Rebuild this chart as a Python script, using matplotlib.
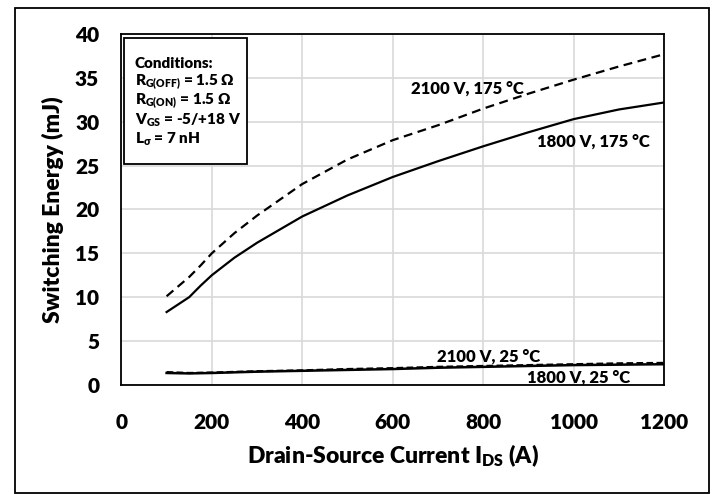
import matplotlib
matplotlib.use("Agg")
from matplotlib import pyplot as plt
from matplotlib.patches import Rectangle

# currents (A) and switching energies (mJ)
current_hot = [100, 150, 175, 200, 250, 300, 400, 500, 600, 700, 800, 900, 1000, 1100, 1200]
e_1800_175 = [8.3, 10.0, 11.3, 12.5, 14.5, 16.2, 19.2, 21.6, 23.7, 25.5, 27.2, 28.8, 30.3, 31.4, 32.2]
e_2100_175 = [10.1, 12.3, 13.6, 15.0, 17.3, 19.3, 22.9, 25.7, 27.9, 29.6, 31.5, 33.2, 34.8, 36.3, 37.7]

current_cold = [100, 150, 200, 300, 400, 500, 600, 700, 800, 900, 1000, 1100, 1200]
e_1800_25 = [1.35, 1.3, 1.35, 1.5, 1.6, 1.7, 1.8, 1.95, 2.05, 2.15, 2.25, 2.3, 2.35]
e_2100_25 = [1.45, 1.35, 1.4, 1.55, 1.65, 1.8, 1.9, 2.05, 2.15, 2.25, 2.35, 2.45, 2.5]

x_ticks = [0, 200, 400, 600, 800, 1000, 1200]
y_ticks = [0, 5, 10, 15, 20, 25, 30, 35, 40]

conditions = [
    "Conditions:",
    r"R$_{\mathrm{G(OFF)}}$ = 1.5 Ω",
    r"R$_{\mathrm{G(ON)}}$ = 1.5 Ω",
    r"V$_{\mathrm{GS}}$ = -5/+18 V",
    r"L$_{\mathrm{σ}}$ = 7 nH",
]

W = 'heavy'
plt.rcParams['font.family'] = ['Lato', 'DejaVu Sans']
plt.rcParams['font.weight'] = W
plt.rcParams['axes.labelweight'] = W
plt.rcParams['mathtext.fontset'] = 'custom'
plt.rcParams['mathtext.rm'] = 'Lato:heavy'
plt.rcParams['mathtext.it'] = 'Lato:heavy'
plt.rcParams['mathtext.bf'] = 'Lato:heavy'

fig = plt.figure(figsize=(7.14, 4.94), dpi=100)
ax = fig.add_axes([0.170, 0.221, 0.760, 0.710])

ax.plot(current_hot, e_1800_175, color='black', lw=1.6)
ax.plot(current_hot, e_2100_175, color='black', lw=1.6, linestyle=(0, (4, 2.5)))
ax.plot(current_cold, e_1800_25, color='black', lw=1.8)
ax.plot(current_cold, e_2100_25, color='black', lw=1.6, linestyle=(0, (3, 1.5)))

ax.set_xlim(0, 1200)
ax.set_ylim(0, 40)
ax.set_xticks(x_ticks)
ax.set_yticks(y_ticks)
ax.tick_params(axis='x', length=0, labelsize=15, pad=20)
ax.tick_params(axis='y', length=0, labelsize=15, pad=16)
for t in ax.get_xticklabels() + ax.get_yticklabels():
    t.set_fontweight(W)
ax.grid(True, color='#d9d9d9', lw=1.2)
ax.set_axisbelow(True)
for s in ax.spines.values():
    s.set_color('black')
    s.set_linewidth(1.3)

ax.set_xlabel(r"Drain-Source Current I$_{\mathrm{DS}}$ (A)", fontsize=16.5, fontweight=W, labelpad=8)
ax.set_ylabel("Switching Energy (mJ)", fontsize=16.5, fontweight=W, labelpad=8)

lab = dict(fontsize=12, fontweight=W, ha='center', va='center')
ax.text(765, 33.8, "2100 V, 175 °C", **lab)
ax.text(1043, 27.7, "1800 V, 175 °C", **lab)
ax.text(813, 3.2, "2100 V, 25 °C", **lab)
ax.text(1012, 0.8, "1800 V, 25 °C", **lab)

# conditions box
ax.add_patch(Rectangle((0.004, 0.63), 0.228, 0.36, transform=ax.transAxes,
                       fill=True, facecolor='white', edgecolor='black', lw=1.3, zorder=5))
for i, line in enumerate(conditions):
    ax.text(0.025, 0.915 - i * 0.0535, line, transform=ax.transAxes,
            fontsize=11, fontweight=W, va='center', ha='left', zorder=6)

# outer frame
fig.patches.append(Rectangle((0.021, 0.002), 0.972, 0.982, transform=fig.transFigure,
                             fill=False, edgecolor='black', lw=1.3))

fig.savefig('out.png', dpi=100)
